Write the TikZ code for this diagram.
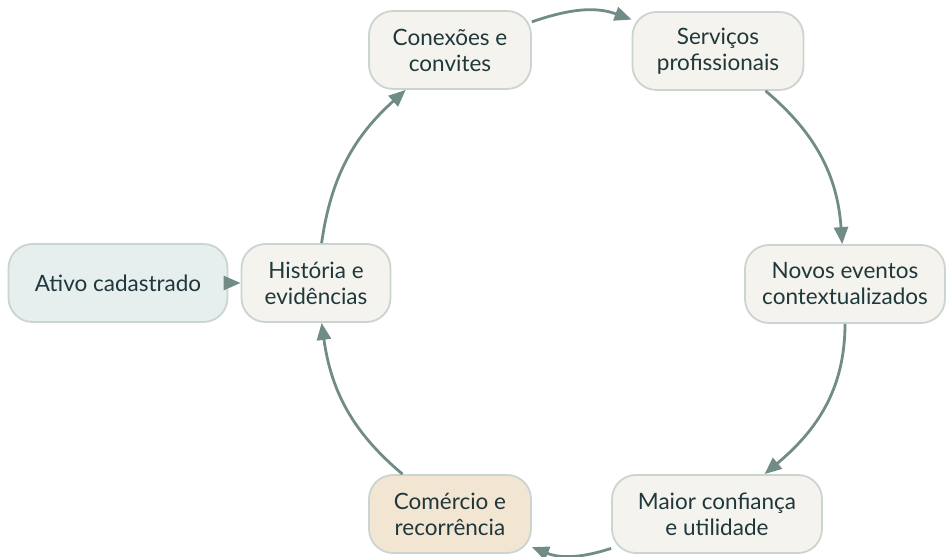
\documentclass[tikz,border=0pt]{standalone}
\usepackage{fontspec}
\setmainfont{Lato}
\usetikzlibrary{arrows.meta}
\definecolor{boxfill}{HTML}{F5F3EE}
\definecolor{boxline}{HTML}{CAD4D0}
\definecolor{startfill}{HTML}{E6EEEE}
\definecolor{tradefill}{HTML}{F2E6D3}
\definecolor{arrowcol}{HTML}{718C87}
\definecolor{textcol}{HTML}{1F383C}
\begin{document}
\begin{tikzpicture}[x=1pt,y=1pt,
        box/.style={draw=boxline,line width=1.8pt,fill=boxfill,rounded corners=24pt,
            minimum height=78pt,align=center,text=textcol,inner sep=0pt,
            font=\fontsize{22.5}{26}\selectfont},
        flow/.style={draw=arrowcol,line width=2.8pt,-{Triangle[length=17pt,width=14pt]}}]
    \useasboundingbox (0,0) rectangle (946,557);
    \node[box,fill=startfill,minimum width=219pt] (ativo) at (118,274) {Ativo cadastrado};
    \node[box,minimum width=149pt] (historia) at (316,274) {História e\\evidências};
    \node[box,minimum width=162pt] (conexoes) at (450,507) {Conexões e\\convites};
    \node[box,minimum width=171pt] (servicos) at (718,506) {Serviços\\profissionais};
    \node[box,minimum width=200pt] (novos) at (845,273) {Novos eventos\\contextualizados};
    \node[box,minimum width=210pt] (confianca) at (717,43) {Maior confiança\\e utilidade};
    \node[box,fill=tradefill,minimum width=162pt] (comercio) at (450,43) {Comércio e\\recorrência};
    \draw[flow] (ativo) -- (historia);
    \draw[flow] (historia) to[out=82,in=222] (conexoes);
    \draw[flow] (conexoes) to[out=19,in=160] (servicos);
    \draw[flow] (servicos) to[out=-40,in=94] (novos);
    \draw[flow] (novos) to[out=-90,in=40] (confianca);
    \draw[flow] (confianca) to[out=-162,in=-22] (comercio);
    \draw[flow] (comercio) to[out=140,in=-82] (historia);
\end{tikzpicture}
\end{document}
